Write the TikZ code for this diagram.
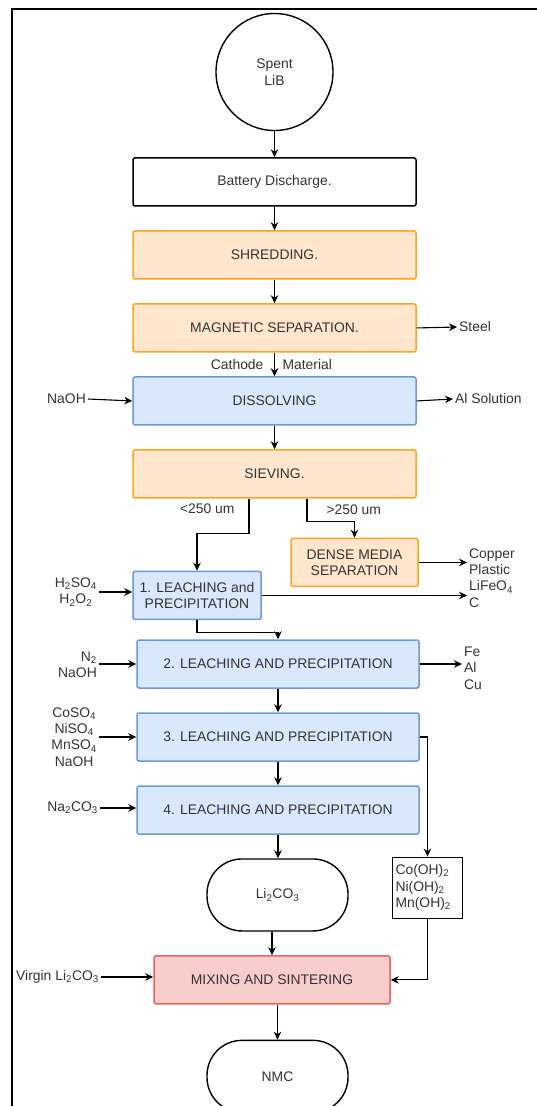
\documentclass[tikz,border=0pt]{standalone}
\usepackage{fontspec}
\setmainfont{Liberation Sans}
\usetikzlibrary{positioning,arrows.meta}
\definecolor{orangefill}{HTML}{FFE6CC}
\definecolor{orangeline}{HTML}{F5A623}
\definecolor{bluefill}{HTML}{DAE8FC}
\definecolor{blueline}{HTML}{6C9AD6}
\definecolor{redfill}{HTML}{F8CECC}
\definecolor{redline}{HTML}{E8625E}
\definecolor{inkgray}{HTML}{333333}

\begin{document}
\begin{tikzpicture}[x=1pt,y=-1pt,font=\fontsize{13.9}{16.3}\selectfont]
  \tikzset{BoxStyle/.style={draw, line width=1.5pt, rounded corners=2pt, minimum width=283pt,
      minimum height=48pt, text=inkgray, align=center, inner sep=2pt}}
  \tikzset{OrangeStyle/.style={BoxStyle, fill=orangefill, draw=orangeline}}
  \tikzset{BlueStyle/.style={BoxStyle, fill=bluefill, draw=blueline}}
  \tikzset{RedStyle/.style={BoxStyle, fill=redfill, draw=redline}}
  \tikzset{EndStyle/.style={draw, line width=1.4pt, rounded corners=35pt, minimum width=141pt,
      minimum height=72pt, text=inkgray}}
  \tikzset{TextStyle/.style={text=inkgray, inner sep=2pt, align=center}}
  \tikzset{EdgeStyle/.style={line width=1.1pt, -{Stealth[length=8pt,width=7.5pt]}}}
  \useasboundingbox (0,0) rectangle (537,1106);
  \draw[line width=1.2pt] (537,9) -- (12,9) -- (12,1106);

  \node[BoxStyle, circle, minimum size=117pt, line width=1.4pt] (spent) at (274.5,72) {Spent\\LiB};
  \node[BoxStyle, below=26pt of spent] (discharge) {Battery Discharge.};
  \node[OrangeStyle, below=23.5pt of discharge] (shred) {SHREDDING.};
  \node[OrangeStyle, below=23.5pt of shred] (magnet) {MAGNETIC SEPARATION.};
  \node[BlueStyle, below=23.5pt of magnet] (dissolve) {DISSOLVING};
  \node[OrangeStyle, below=23.5pt of dissolve] (sieve) {SIEVING.};
  \node[OrangeStyle, minimum width=127pt, below=39pt of sieve.south east, anchor=north east,
    xshift=2pt] (dense) {DENSE MEDIA\\SEPARATION};
  \node[BlueStyle, minimum width=128pt, below=72pt of sieve.south west, anchor=north west]
    (leach1) {1. LEACHING and\\PRECIPITATION};
  \node[BlueStyle, minimum width=282pt] (leach2) at (278,664) {2. LEACHING AND PRECIPITATION};
  \node[BlueStyle, minimum width=282pt, below=23.5pt of leach2] (leach3) {3. LEACHING AND PRECIPITATION};
  \node[BlueStyle, minimum width=282pt, below=23.5pt of leach3] (leach4) {4. LEACHING AND PRECIPITATION};
  \node[EndStyle, below=23.5pt of leach4, xshift=-0.5pt] (li2co3) {Li\textsubscript{2}CO\textsubscript{3}};
  \node[draw, line width=0.9pt, text=inkgray, text width=64pt, align=left, minimum height=61pt,
    inner sep=3pt] (hydrox) at (427.5,887.5) {Co(OH)\textsubscript{2}\\Ni(OH)\textsubscript{2}\\Mn(OH)\textsubscript{2}};
  \node[RedStyle, minimum width=236pt, below=23.5pt of li2co3, xshift=-5.5pt] (mix) {MIXING AND SINTERING};
  \node[EndStyle, below=35pt of mix, xshift=5.5pt] (nmc) {NMC};

  \node[TextStyle, anchor=east] (naoh1) at (88,399) {NaOH};
  \node[TextStyle, anchor=west] (steel) at (457,327) {Steel};
  \node[TextStyle, anchor=west] (alsol) at (453,399) {Al Solution};
  \node[TextStyle, anchor=east] (acids) at (99,592) {H\textsubscript{2}SO\textsubscript{4}\\H\textsubscript{2}O\textsubscript{2}};
  \node[TextStyle, anchor=west, align=left] (residue) at (467,578) {Copper\\Plastic\\LiFeO\textsubscript{4}\\C};
  \node[TextStyle, anchor=east, align=right] (n2naoh) at (99,665) {N\textsubscript{2}\\NaOH};
  \node[TextStyle, anchor=west, align=left] (metals) at (462,668) {Fe\\Al\\Cu};
  \node[TextStyle, anchor=east] (salts) at (99,737) {CoSO\textsubscript{4}\\NiSO\textsubscript{4}\\MnSO\textsubscript{4}\\NaOH};
  \node[TextStyle, anchor=east] (soda) at (100,808) {Na\textsubscript{2}CO\textsubscript{3}};
  \node[TextStyle, anchor=east] (virgin) at (101,977) {Virgin Li\textsubscript{2}CO\textsubscript{3}};

  \draw[EdgeStyle] (spent) -- (discharge);
  \draw[EdgeStyle] (discharge) -- (shred);
  \draw[EdgeStyle] (shred) -- (magnet);
  \draw[EdgeStyle] (magnet) -- node[TextStyle, midway, anchor=east, xshift=-8.5pt] (cathode) {Cathode}
    node[TextStyle, midway, anchor=west, xshift=5.5pt] (material) {Material} (dissolve);
  \draw[EdgeStyle] (dissolve) -- (sieve);
  \draw[EdgeStyle] (magnet.east) -- (steel.west);
  \draw[EdgeStyle] (naoh1.east) -- (dissolve.west);
  \draw[EdgeStyle] (dissolve.east) -- (alsol.west);
  \draw[EdgeStyle] ([xshift=-25.5pt]sieve.south) -- node[TextStyle, pos=.3, left=12pt] (fine) {<250 um}
    ++(0,35) -| (leach1.north);
  \draw[EdgeStyle] ([xshift=32.5pt]sieve.south) -- node[TextStyle, midway, right=17pt] (coarse) {>250 um}
    ++(0,23) -| (dense.north);
  \draw[EdgeStyle] (dense.east) -- (dense.east -| residue.west);
  \draw[EdgeStyle] (acids.east) -- (acids.east -| leach1.west);
  \draw[EdgeStyle] (leach1.east) -- (leach1.east -| residue.west);
  \draw[EdgeStyle] (leach1.south) -- ++(0,12) -| (leach2.north);
  \draw[EdgeStyle] (leach2.west -| n2naoh.east) -- (leach2.west);
  \draw[EdgeStyle] (leach2.east) -- (leach2.east -| metals.west);
  \draw[EdgeStyle] (leach2) -- (leach3);
  \draw[EdgeStyle] (leach3.west -| salts.east) -- (leach3.west);
  \draw[EdgeStyle] (leach3) -- (leach4);
  \draw[EdgeStyle] (soda.east) -- (soda.east -| leach4.west);
  \draw[EdgeStyle] (leach4.south) -- (leach4.south |- li2co3.north);
  \draw[EdgeStyle] (leach3.east) -| (hydrox.north);
  \draw[EdgeStyle] (hydrox.south) |- (mix.east);
  \draw[EdgeStyle] (li2co3.south -| mix.north) -- (mix.north);
  \draw[EdgeStyle] (virgin.east) -- (virgin.east -| mix.west);
  \draw[EdgeStyle] (nmc.north |- mix.south) -- (nmc.north);
\end{tikzpicture}
\end{document}
